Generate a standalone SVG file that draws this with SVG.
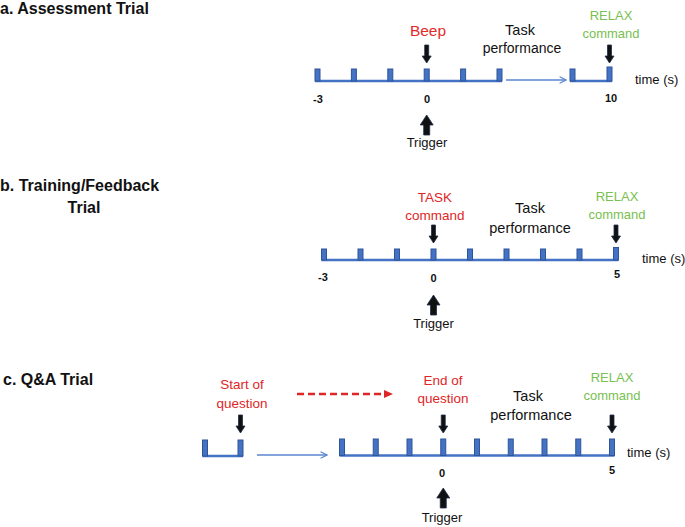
<svg xmlns="http://www.w3.org/2000/svg" width="685" height="527" viewBox="0 0 685 527">
<style>
text{font-family:"Liberation Sans",Arial,sans-serif;}
.title{font-weight:bold;font-size:16px;fill:#111;}
.red{fill:#DE2626;font-size:13.5px;}
.green{fill:#78C050;font-size:13px;}
.blk{fill:#111;font-size:14.5px;}
.time{fill:#111;font-size:13px;}
.num{fill:#111;font-size:11px;font-weight:bold;}
.trig{fill:#111;font-size:13px;}
.base{stroke:#4472C4;stroke-width:2.5;fill:none;}
.tick{fill:#4472C4;stroke:#2F5597;stroke-width:1;}
.thin{stroke:#5B86D0;stroke-width:1.5;fill:none;}
.dash{stroke:#DE2626;stroke-width:2.5;stroke-dasharray:7,4;fill:none;}
</style>
<defs>
<path id="down" d="M-2,-18 L2,-18 L2,-7 L4.5,-7 L0,0 L-4.5,-7 L-2,-7 Z" fill="#111" stroke="#1F2D4A" stroke-width="0.8"/>
<path id="up" d="M0,0 L6.5,10 L3,10 L3,20 L-3,20 L-3,10 L-6.5,10 Z" fill="#111" stroke="#1F2D4A" stroke-width="0.8"/>
<marker id="openhead" viewBox="0 0 10 10" refX="9" refY="5" markerWidth="8" markerHeight="8" markerUnits="userSpaceOnUse" orient="auto">
<path d="M1,1 L9,5 L1,9" fill="none" stroke="#5B86D0" stroke-width="1.5"/>
</marker>
</defs>

<g id="titles">
<text class="title" x="0" y="14">a. Assessment Trial</text>
<text class="title" x="0" y="191">b. Training/Feedback</text>
<text class="title" x="84" y="213" text-anchor="middle">Trial</text>
<text class="title" x="3" y="385">c. Q&amp;A Trial</text>
</g>

<!-- Panel a -->
<g id="timeline-a1">
<line class="base" x1="315" y1="81" x2="502" y2="81"/>
<rect class="tick" x="315" y="69" width="5" height="12"/>
<rect class="tick" x="351.4" y="69" width="5" height="12"/>
<rect class="tick" x="387.8" y="69" width="5" height="12"/>
<rect class="tick" x="424.2" y="69" width="5" height="12"/>
<rect class="tick" x="460.6" y="69" width="5" height="12"/>
<rect class="tick" x="497" y="69" width="5" height="12"/>
</g>
<g id="timeline-a2">
<line class="base" x1="570" y1="81" x2="612" y2="81"/>
<rect class="tick" x="570" y="69" width="5" height="12"/>
<rect class="tick" x="607" y="67" width="5" height="14"/>
</g>
<g id="label-a-beep"><text x="428" y="36" text-anchor="middle" style="fill:#E32B2B;font-size:15.5px">Beep</text></g>
<g id="label-a-task"><text class="blk" x="520" y="35" text-anchor="middle">Task</text><text class="blk" x="522" y="53" text-anchor="middle" style="font-size:14px">performance</text></g>
<g id="label-a-relax"><text class="green" x="611" y="20" text-anchor="middle">RELAX</text><text class="green" x="611" y="38" text-anchor="middle">command</text></g>
<g id="label-a-time"><text class="time" x="635" y="84">time (s)</text></g>
<g id="label-a-nums"><text class="num" x="318" y="103" text-anchor="middle">-3</text><text class="num" x="427" y="103" text-anchor="middle">0</text><text class="num" x="611" y="102" text-anchor="middle">10</text></g>
<g id="label-a-trigger"><text class="trig" x="427" y="147" text-anchor="middle">Trigger</text></g>

<!-- Panel b -->
<g id="timeline-b">
<line class="base" x1="321.5" y1="260" x2="618.5" y2="260"/>
<rect class="tick" x="321.5" y="249" width="5" height="11"/>
<rect class="tick" x="358" y="249" width="5" height="11"/>
<rect class="tick" x="394.5" y="249" width="5" height="11"/>
<rect class="tick" x="431" y="249" width="5" height="11"/>
<rect class="tick" x="467.5" y="249" width="5" height="11"/>
<rect class="tick" x="504" y="249" width="5" height="11"/>
<rect class="tick" x="540.5" y="249" width="5" height="11"/>
<rect class="tick" x="577" y="249" width="5" height="11"/>
<rect class="tick" x="613.5" y="247.5" width="5" height="12.5"/>
</g>
<g id="label-b-task"><text class="red" x="435" y="202" text-anchor="middle">TASK</text><text class="red" x="435" y="220" text-anchor="middle">command</text></g>
<g id="label-b-perf"><text class="blk" x="530" y="213" text-anchor="middle">Task</text><text class="blk" x="530" y="233" text-anchor="middle">performance</text></g>
<g id="label-b-relax"><text class="green" x="617" y="201" text-anchor="middle">RELAX</text><text class="green" x="617" y="219" text-anchor="middle">command</text></g>
<g id="label-b-time"><text class="time" x="642" y="263">time (s)</text></g>
<g id="label-b-nums"><text class="num" x="323" y="281" text-anchor="middle">-3</text><text class="num" x="433.5" y="282" text-anchor="middle">0</text><text class="num" x="617" y="278" text-anchor="middle">5</text></g>
<g id="label-b-trigger"><text class="trig" x="433.5" y="328" text-anchor="middle">Trigger</text></g>

<!-- Panel c -->
<g id="timeline-c1">
<line class="base" x1="202.5" y1="456" x2="243" y2="456"/>
<rect class="tick" x="202.5" y="440" width="5" height="16"/>
<rect class="tick" x="238" y="440" width="5" height="16"/>
</g>
<g id="timeline-c2">
<line class="base" x1="339.5" y1="455.5" x2="614.5" y2="455.5"/>
<rect class="tick" x="339.5" y="439" width="5" height="16.5"/>
<rect class="tick" x="373.25" y="439" width="5" height="16.5"/>
<rect class="tick" x="407" y="439" width="5" height="16.5"/>
<rect class="tick" x="440.75" y="439" width="5" height="16.5"/>
<rect class="tick" x="474.5" y="439" width="5" height="16.5"/>
<rect class="tick" x="508.25" y="439" width="5" height="16.5"/>
<rect class="tick" x="542" y="439" width="5" height="16.5"/>
<rect class="tick" x="575.75" y="439" width="5" height="16.5"/>
<rect class="tick" x="609.5" y="439" width="5" height="16.5"/>
</g>
<g id="label-c-start"><text class="red" x="242" y="389" text-anchor="middle">Start of</text><text class="red" x="242" y="408" text-anchor="middle">question</text></g>
<g id="label-c-end"><text class="red" x="443" y="385" text-anchor="middle">End of</text><text class="red" x="443" y="403" text-anchor="middle">question</text></g>
<g id="label-c-perf"><text class="blk" x="528" y="401" text-anchor="middle">Task</text><text class="blk" x="531" y="420" text-anchor="middle">performance</text></g>
<g id="label-c-relax"><text class="green" x="612" y="382" text-anchor="middle">RELAX</text><text class="green" x="612" y="400" text-anchor="middle">command</text></g>
<g id="label-c-time"><text class="time" x="627" y="457">time (s)</text></g>
<g id="label-c-nums"><text class="num" x="442" y="477" text-anchor="middle">0</text><text class="num" x="612" y="474" text-anchor="middle">5</text></g>
<g id="label-c-trigger"><text class="trig" x="442" y="522" text-anchor="middle">Trigger</text></g>

<g id="connectors">
<line class="thin" x1="506" y1="80" x2="566" y2="80" marker-end="url(#openhead)"/>
<line class="thin" x1="257" y1="455" x2="327" y2="455" marker-end="url(#openhead)"/>
<line class="dash" x1="297" y1="394" x2="386" y2="394"/>
<path d="M384,390 L393,394 L384,398 Z" fill="#DE2626"/>
<use href="#down" x="426.7" y="63"/>
<use href="#down" x="609.5" y="63"/>
<use href="#up" x="426.7" y="115"/>
<use href="#down" x="433.5" y="243"/>
<use href="#down" x="616" y="243"/>
<use href="#up" x="433.5" y="295"/>
<use href="#down" x="240.5" y="433"/>
<use href="#down" x="443.25" y="433"/>
<use href="#down" x="612" y="433"/>
<use href="#up" x="443.25" y="488"/>
</g>
</svg>
